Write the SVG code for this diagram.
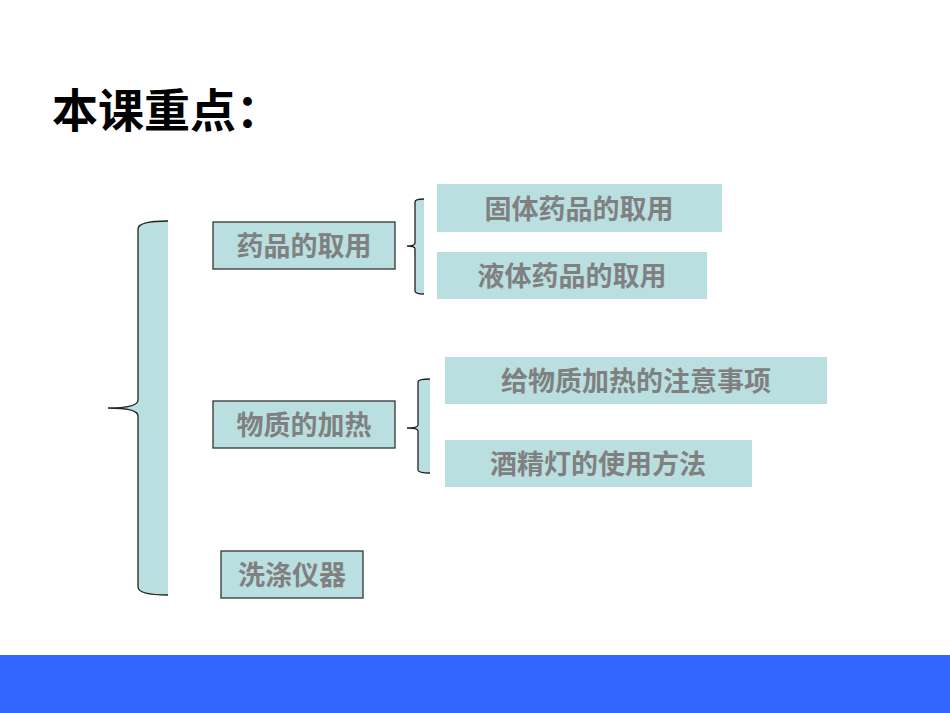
<svg xmlns="http://www.w3.org/2000/svg" width="950" height="713" viewBox="0 0 950 713">
<style>
.t{font-family:"Noto Sans CJK SC",sans-serif;font-weight:bold;fill:#808080;font-size:27px}
.b{fill:#b9dfe0;stroke:#333;stroke-width:1.3}
.n{fill:#b9dfe0}
.br{fill:#b9dfe0}
.bo{fill:none;stroke:#222;stroke-width:1.3}
</style>
<rect width="950" height="713" fill="#fff"/>
<text x="52" y="127" font-family="'Noto Sans CJK SC',sans-serif" font-weight="bold" font-size="46" fill="#000">本课重点：</text>
<g id="connectors">
<path class="br" d="M138,229 Q138,221 168,221 L168,595 Q138,595 138,587 L138,416 Q138,408 108,408 Q138,408 138,400 Z"/>
<path class="bo" d="M168,221 Q138,221 138,229 L138,400 Q138,408 108,408 Q138,408 138,416 L138,587 Q138,595 168,595"/>
<path class="br" d="M415,202 Q415,199 424,199 L424,294 Q415,294 415,291 L415,249 Q415,246 407,246 Q415,246 415,243 Z"/>
<path class="bo" d="M424,199 Q415,199 415,202 L415,243 Q415,246 407,246 Q415,246 415,249 L415,291 Q415,294 424,294"/>
<path class="br" d="M418,382 Q418,379 430,379 L430,473 Q418,473 418,470 L418,431 Q418,428 407,428 Q418,428 418,425 Z"/>
<path class="bo" d="M430,379 Q418,379 418,382 L418,425 Q418,428 407,428 Q418,428 418,431 L418,470 Q418,473 430,473"/>
</g>
<g id="n1"><rect class="b" x="213" y="222" width="182" height="47"/><text class="t" x="304" y="256" text-anchor="middle">药品的取用</text></g>
<g id="n2"><rect class="b" x="213" y="401" width="182" height="47"/><text class="t" x="304" y="435" text-anchor="middle">物质的加热</text></g>
<g id="n3"><rect class="b" x="221" y="551" width="142" height="47"/><text class="t" x="292" y="585" text-anchor="middle">洗涤仪器</text></g>
<g id="n4"><rect class="n" x="437" y="184" width="285" height="48"/><text class="t" x="579" y="219" text-anchor="middle">固体药品的取用</text></g>
<g id="n5"><rect class="n" x="437" y="252" width="270" height="47"/><text class="t" x="572" y="286" text-anchor="middle">液体药品的取用</text></g>
<g id="n6"><rect class="n" x="445" y="357" width="382" height="47"/><text class="t" x="636" y="391" text-anchor="middle">给物质加热的注意事项</text></g>
<g id="n7"><rect class="n" x="445" y="440" width="307" height="47"/><text class="t" x="598" y="474" text-anchor="middle">酒精灯的使用方法</text></g>
<rect x="0" y="655" width="950" height="58" fill="#3366ff"/>
</svg>
